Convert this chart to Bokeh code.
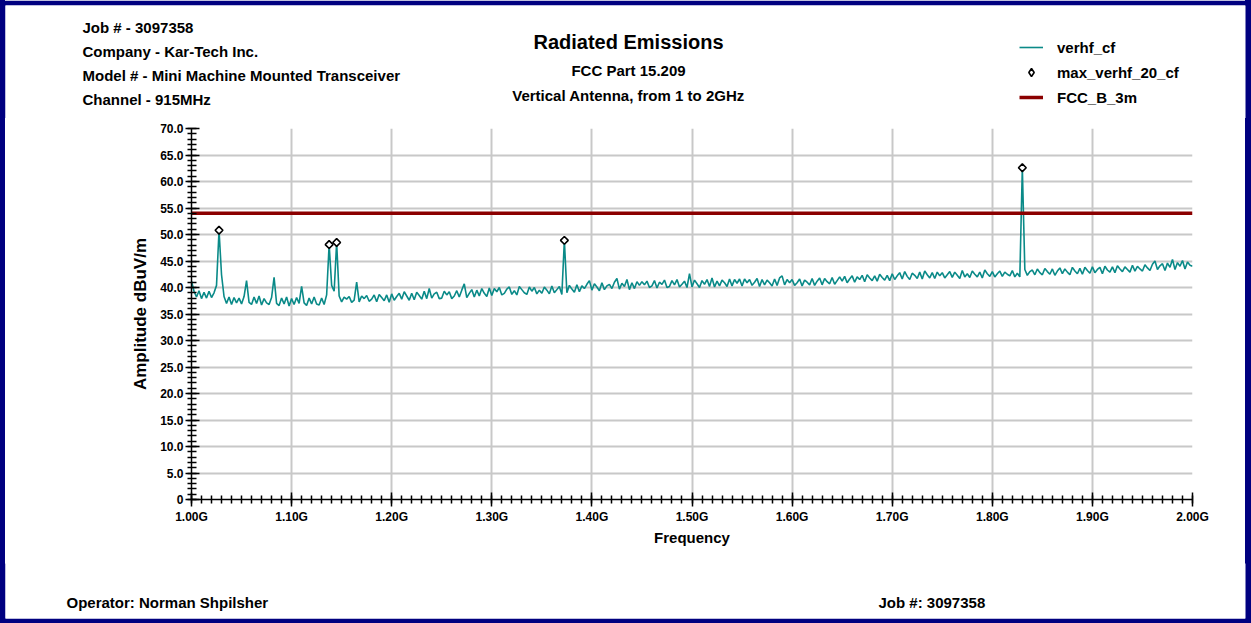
from bokeh.plotting import figure
from bokeh.layouts import column, row
from bokeh.models import FixedTicker, Label, Legend, LegendItem, Range1d
from bokeh.embed import file_html
from bokeh.resources import INLINE

# ---- sweep data (vertical antenna, corrected field strength, dBuV/m) ----
sweep_start_mhz = 1000.0
sweep_step_mhz = 2.5
verhf_cf = [
    41.2, 39.3, 38.2, 39.4, 37.9, 39.1, 38.0, 39.3, 38.1, 39.0, 40.4, 50.8, 42.4, 38.3, 37.0, 38.2, 36.8, 38.1, 37.1, 38.0,
    36.9, 38.3, 41.3, 37.2, 36.8, 38.2, 37.0, 38.4, 36.7, 37.9, 37.1, 36.8, 38.1, 41.9, 37.0, 36.6, 38.0, 36.9, 38.2, 36.5,
    37.9, 36.8, 38.1, 37.0, 40.2, 37.1, 36.6, 38.0, 36.9, 38.2, 36.9, 36.7, 38.0, 36.8, 38.6, 48.1, 40.4, 39.3, 48.5, 38.4,
    37.3, 38.2, 37.8, 38.3, 37.2, 37.6, 41.0, 37.3, 38.4, 37.9, 38.5, 37.4, 37.8, 38.6, 37.3, 38.7, 38.1, 37.5, 38.6, 37.2,
    38.8, 37.6, 38.3, 38.9, 37.8, 39.2, 38.4, 37.6, 38.9, 37.7, 39.1, 38.5, 37.8, 39.3, 37.9, 39.8, 38.0, 38.8, 39.1, 37.9,
    38.0, 39.3, 38.6, 39.2, 37.9, 38.4, 39.4, 38.2, 39.5, 40.7, 38.1, 38.9, 39.6, 38.2, 39.5, 38.4, 39.8, 38.9, 38.3, 39.9,
    38.5, 39.8, 39.2, 40.0, 38.6, 38.9, 39.7, 40.1, 38.7, 39.4, 38.6, 40.2, 39.6, 39.0, 38.7, 40.1, 39.3, 40.0, 38.8, 39.5,
    38.9, 40.1, 39.5, 38.8, 40.3, 39.0, 39.6, 40.2, 38.7, 48.9, 39.0, 40.4, 39.7, 39.1, 40.5, 39.2, 40.3, 39.8, 40.6, 41.3,
    39.5, 40.7, 40.1, 39.4, 40.9, 39.6, 40.3, 40.6, 39.8, 41.0, 41.7, 39.7, 40.8, 40.2, 41.5, 39.6, 40.9, 39.8, 41.1, 40.4,
    41.1, 40.5, 41.2, 40.0, 40.3, 41.3, 39.9, 41.0, 40.6, 41.4, 40.0, 40.2, 41.3, 40.5, 41.5, 40.1, 40.6, 41.2, 40.0, 42.6,
    40.1, 41.4, 40.7, 40.0, 41.3, 40.6, 41.5, 40.2, 41.8, 40.1, 41.2, 40.3, 41.4, 40.9, 40.2, 41.6, 40.3, 41.5, 40.8, 41.6,
    40.3, 41.6, 40.9, 41.5, 40.4, 41.0, 41.7, 40.2, 41.5, 40.5, 41.4, 40.9, 40.3, 41.6, 40.4, 41.8, 42.2, 40.5, 41.5, 40.9,
    41.5, 40.4, 40.9, 41.6, 40.3, 41.4, 41.0, 40.5, 41.7, 40.4, 41.2, 41.8, 40.5, 41.7, 41.1, 40.7, 41.9, 40.6, 41.3, 42.0,
    41.2, 42.1, 40.9, 41.6, 42.2, 41.0, 42.0, 41.5, 42.3, 41.1, 42.4, 41.8, 41.3, 42.2, 41.2, 42.5, 41.9, 41.4, 42.3, 41.3,
    42.6, 41.5, 42.2, 42.8, 41.6, 43.0, 42.1, 41.5, 42.7, 42.3, 41.7, 42.9, 41.6, 43.1, 42.4, 41.8, 42.8, 41.7, 42.9, 42.2,
    42.8, 41.8, 42.4, 43.0, 41.9, 42.9, 42.3, 41.7, 43.2, 42.0, 42.6, 41.9, 43.1, 42.5, 42.0, 42.9, 41.8, 43.3, 42.6, 42.1,
    43.0, 42.0, 42.6, 43.1, 42.1, 42.9, 42.5, 42.2, 43.2, 42.0, 42.7, 42.0, 62.6, 43.4, 42.3, 43.0, 43.3, 42.4, 43.5, 42.8,
    42.4, 43.6, 43.0, 42.5, 43.5, 42.3, 43.1, 43.7, 42.6, 43.5, 42.9, 42.4, 43.8, 43.1, 42.6, 43.6, 42.5, 43.8, 43.2, 42.7,
    43.9, 42.8, 43.4, 43.8, 42.6, 44.0, 43.3, 42.9, 43.9, 42.8, 44.1, 43.5, 43.0, 43.9, 43.4, 42.9, 44.2, 43.1, 44.0, 43.5,
    43.1, 44.3, 43.7, 43.2, 44.4, 45.0, 43.4, 44.1, 44.5, 43.2, 44.6, 43.8, 45.3, 43.4, 44.7, 44.0, 45.1, 43.5, 44.8, 44.2,
    44.0,
]
freq_mhz = [sweep_start_mhz + sweep_step_mhz * i for i in range(len(verhf_cf))]

# peak markers (max hold), taken from the sweep at these frequencies
max_freq_mhz = [1027.5, 1137.5, 1145.0, 1372.5, 1830.0]
max_verhf_20_cf = [verhf_cf[int(round((f - sweep_start_mhz) / sweep_step_mhz))] for f in max_freq_mhz]

# FCC Class B limit at 3 m
limit_freq_mhz = [1000.0, 2000.0]
limit_dbuv = [54.0, 54.0]

x_ticks = [1000, 1100, 1200, 1300, 1400, 1500, 1600, 1700, 1800, 1900, 2000]
x_tick_labels = ["1.00G", "1.10G", "1.20G", "1.30G", "1.40G", "1.50G",
                 "1.60G", "1.70G", "1.80G", "1.90G", "2.00G"]
y_ticks = [0, 5, 10, 15, 20, 25, 30, 35, 40, 45, 50, 55, 60, 65, 70]
y_tick_labels = ["0", "5.0", "10.0", "15.0", "20.0", "25.0", "30.0", "35.0",
                 "40.0", "45.0", "50.0", "55.0", "60.0", "65.0", "70.0"]

header_lines = ["Job # - 3097358", "Company - Kar-Tech Inc.",
                "Model # - Mini Machine Mounted Transceiver", "Channel - 915MHz"]
title_lines = ["Radiated Emissions", "FCC Part 15.209", "Vertical Antenna, from 1 to 2GHz"]
footer_left = "Operator: Norman Shpilsher"
footer_right = "Job #: 3097358"

FONT = "Liberation Sans"
TEAL = "#0a8a88"
LIMIT_RED = "#8b0000"
NAVY = "#000080"
GRID = "#c8c8c8"
NAN = float("nan")

W, H = 1251, 623
EDGE_L, EDGE_R, EDGE_T, EDGE_B = 5, 6, 5, 5      # navy page frame
HEAD_H, FOOT_H = 118, 60
CHART_W = W - EDGE_L - EDGE_R
CHART_H = H - HEAD_H - FOOT_H

# page background: navy side bands, white in between (shows through any seams)
PAGE_BG = (f"linear-gradient(to right, {NAVY} 0px, {NAVY} {EDGE_L}px, "
           f"white {EDGE_L}px, white {W - EDGE_R}px, {NAVY} {W - EDGE_R}px)")


def page_panel(height, top, bottom):
    """A text panel whose plot frame uses page pixel coordinates (y grows downward)."""
    f = figure(width=W, height=height, output_backend="svg", toolbar_location=None,
               x_axis_type=None, y_axis_type=None, title=None,
               x_range=Range1d(EDGE_L, W - EDGE_R), y_range=Range1d(bottom, top),
               min_border_left=EDGE_L, min_border_right=EDGE_R,
               min_border_top=EDGE_T if top == EDGE_T else 0,
               min_border_bottom=EDGE_B if bottom == H else 0,
               background_fill_color="white", border_fill_color=NAVY)
    f.outline_line_color = None
    return f


def side_strip(width):
    f = figure(width=width, height=CHART_H, output_backend="svg", toolbar_location=None,
               x_axis_type=None, y_axis_type=None, title=None, min_border=0,
               background_fill_color=NAVY, border_fill_color=NAVY)
    f.outline_line_color = None
    return f


def add_text(f, x, y, text, size="15px", align="left"):
    f.add_layout(Label(x=x, y=y, text=text, text_font=FONT, text_font_style="bold",
                       text_font_size=size, text_color="black",
                       text_align=align, text_baseline="middle"))


# ---- header: job info, titles, legend ----
head = page_panel(HEAD_H, EDGE_T, HEAD_H)
for line, cy in zip(header_lines, [27, 51, 75, 99]):
    add_text(head, 82, cy, line)
for line, cy, sz in zip(title_lines, [41, 70, 95], ["20px", "15px", "15px"]):
    add_text(head, 628, cy, line, size=sz, align="center")

# legend samples share the chart's styles (no visible points of their own)
lg_trace = head.line([NAN], [NAN], line_color=TEAL, line_width=1.6)
lg_peaks = head.scatter([NAN], [NAN], marker="diamond", size=7.5,
                        fill_color="white", line_color="black", line_width=1.6)
lg_limit = head.line([NAN], [NAN], line_color=LIMIT_RED, line_width=3.5)
legend = Legend(items=[LegendItem(label="verhf_cf", renderers=[lg_trace]),
                       LegendItem(label="max_verhf_20_cf", renderers=[lg_peaks]),
                       LegendItem(label="FCC_B_3m", renderers=[lg_limit])],
                location=(1014, 11), orientation="vertical",
                glyph_width=24, glyph_height=20, label_standoff=14, spacing=5,
                padding=10, margin=0,
                label_text_font=FONT, label_text_font_style="bold",
                label_text_font_size="15px", label_text_color="black",
                border_line_color=None, background_fill_alpha=0)
head.add_layout(legend)

# ---- chart ----
p = figure(width=CHART_W, height=CHART_H, x_range=(1000, 2000), y_range=(0, 70),
           output_backend="svg", toolbar_location=None, title=None,
           min_border_left=186, min_border_right=53,
           min_border_top=10, min_border_bottom=64,
           background_fill_color="white", border_fill_color="white")
p.outline_line_color = None

p.xaxis.ticker = FixedTicker(ticks=x_ticks, minor_ticks=list(range(1000, 2001, 10)))
p.yaxis.ticker = FixedTicker(ticks=y_ticks, minor_ticks=list(range(0, 71, 1)))
p.xaxis.major_label_overrides = dict(zip(x_ticks, x_tick_labels))
p.yaxis.major_label_overrides = dict(zip(y_ticks, y_tick_labels))
p.xaxis.axis_label = "Frequency"
p.yaxis.axis_label = "Amplitude dBuV/m"
for ax in (p.xaxis[0], p.yaxis[0]):
    ax.axis_line_color = "black"
    ax.axis_line_width = 1.5
    ax.major_tick_line_color = "black"
    ax.major_tick_line_width = 1.5
    ax.minor_tick_line_color = "black"
    ax.minor_tick_line_width = 1.5
    ax.major_label_text_font = FONT
    ax.major_label_text_font_style = "bold"
    ax.major_label_text_font_size = "12px"
    ax.major_label_text_color = "black"
    ax.axis_label_text_font = FONT
    ax.axis_label_text_font_style = "bold"
    ax.axis_label_text_color = "black"
p.xaxis.axis_label_text_font_size = "15px"
p.yaxis.axis_label_text_font_size = "17px"
p.xaxis.major_tick_in = 7
p.xaxis.major_tick_out = 7
p.xaxis.minor_tick_in = 4
p.xaxis.minor_tick_out = 4
p.xaxis.major_label_standoff = 3
p.xaxis.axis_label_standoff = 2
p.yaxis.major_tick_in = 8
p.yaxis.major_tick_out = 6
p.yaxis.minor_tick_in = 5
p.yaxis.minor_tick_out = 4
p.yaxis.major_label_standoff = 2
p.yaxis.axis_label_standoff = 7

p.xgrid.grid_line_color = GRID
p.ygrid.grid_line_color = GRID
p.xgrid.grid_line_width = 2
p.ygrid.grid_line_width = 2

p.line(freq_mhz, verhf_cf, line_color=TEAL, line_width=1.6)
p.line(limit_freq_mhz, limit_dbuv, line_color=LIMIT_RED, line_width=3.5)
p.scatter(max_freq_mhz, max_verhf_20_cf, marker="square", angle=0.785398,
          size=5.5, fill_color="white", line_color="black", line_width=1.6)

# ---- footer ----
foot = page_panel(FOOT_H, HEAD_H + CHART_H, H)
add_text(foot, 66, 606, footer_left)
add_text(foot, 878, 606, footer_right)

middle = row(side_strip(EDGE_L), p, side_strip(EDGE_R), spacing=0,
             styles={"background": PAGE_BG})
page = column(head, middle, foot, spacing=0, styles={"background": PAGE_BG})

open("out.html", "w").write(file_html(page, INLINE))
